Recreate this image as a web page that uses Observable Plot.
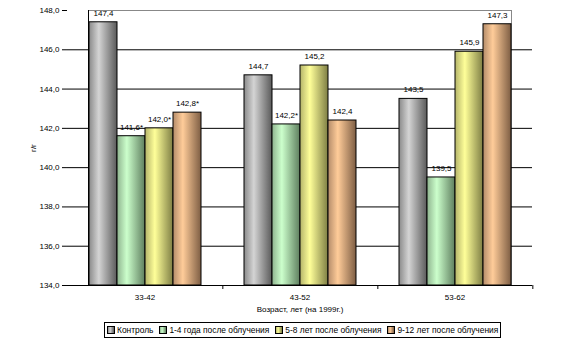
<!DOCTYPE html>
<html><head><meta charset="utf-8">
<script src="https://cdn.jsdelivr.net/npm/d3@7"></script>
<script src="https://cdn.jsdelivr.net/npm/@observablehq/plot@0.6"></script>
<style>
body{margin:0;background:#fff;font-family:"Liberation Sans",Arial,sans-serif;}
#wrap{position:relative;width:574px;height:358px;}
#legend{position:absolute;left:104px;top:322px;border:1px solid #000;padding:1px 2px;font-size:8.4px;white-space:nowrap;display:flex;gap:6px;align-items:center;line-height:12px}
.sw{display:inline-block;width:6px;height:6px;border:1px solid #000;margin-right:2px;vertical-align:-1px}
</style></head><body>
<svg width="0" height="0" style="position:absolute"><defs id="defs"></defs></svg>
<div id="wrap"><div id="chart"></div><div id="legend"></div></div>
<script>
const categories = ["33-42", "43-52", "53-62"];
const seriesNames = ["Контроль", "1-4 года после облучения", "5-8 лет после облучения", "9-12 лет после облучения"];
const control    = [147.4, 144.7, 143.5];
const years1to4  = [141.6, 142.2, 139.5];
const years5to8  = [142.0, 145.2, 145.9];
const years9to12 = [142.8, 142.4, 147.3];
const significant = [[false, false, false], [true, true, false], [true, false, false], [true, false, false]];
const yTicks = [134, 136, 138, 140, 142, 144, 146, 148];
const xTitle = "Возраст, лет (на 1999г.)";
const yTitle = "г/г";
// gradient stops per series: [edge-left, highlight, edge-right]
const seriesGradients = [
  ["#8a8a8a", "#d4d4d4", "#5a5a5a"],
  ["#8fb48f", "#ccffcc", "#5e7e5e"],
  ["#b4b46a", "#ffff99", "#7e7e44"],
  ["#b48c6a", "#ffcc99", "#7e5e44"]
];

const allValues = [control, years1to4, years5to8, years9to12];
const data = [];
seriesNames.forEach((s, j) => categories.forEach((c, i) => data.push({
  series: s, cat: c, value: allValues[j][i], sig: significant[j][i], idx: j
})));

// gradients
const defs = d3.select("#defs");
seriesGradients.forEach((g, j) => {
  const lg = defs.append("linearGradient").attr("id", "grad" + j).attr("x1", 0).attr("x2", 1).attr("y1", 0).attr("y2", 0);
  lg.append("stop").attr("offset", "0%").attr("stop-color", g[0]);
  lg.append("stop").attr("offset", "35%").attr("stop-color", g[1]);
  lg.append("stop").attr("offset", "100%").attr("stop-color", g[2]);
});

const W = 574, H = 318, mL = 66, mR = 41, mT = 10, mB = 33;
const pInner = 0.27, pOuter = pInner / 2;
const step = (W - mL - mR) / categories.length;
const half = step * pInner / 2;
const fmt = v => v.toFixed(1).replace(".", ",");
const font = "Liberation Sans, Arial, sans-serif";

const chart = Plot.plot({
  width: W, height: H,
  marginLeft: mL, marginRight: mR, marginTop: mT, marginBottom: mB,
  style: {fontFamily: font, fontSize: "8px", color: "#000", background: "#fff"},
  fx: {domain: categories, paddingInner: pInner, paddingOuter: pOuter, axis: null, label: null},
  x: {domain: seriesNames, padding: 0, axis: null},
  y: {domain: [134, 148], axis: null},
  color: {type: "identity"},
  marks: [
    Plot.frame({facet: "super", stroke: "#888"}),
    Plot.ruleY(yTicks.slice(1, -1), {stroke: "#000", insetLeft: -half, insetRight: -half}),
    Plot.ruleY([134], {stroke: "#000", insetLeft: -half, insetRight: -half}),
    Plot.frame({facet: "super", anchor: "left", stroke: "#000"}),
    Plot.barY(data, {fx: "cat", x: "series", y1: 134, y2: "value", fill: d => `url(#grad${d.idx})`, stroke: "#000", strokeWidth: 1}),
    Plot.text(data, {fx: "cat", x: "series", y: "value", text: d => fmt(d.value) + (d.sig ? "*" : ""), dy: -9, fontSize: 8}),
    Plot.axisY({ticks: yTicks, tickSize: 5, tickPadding: 3, dx: -half, tickFormat: fmt, label: yTitle, labelArrow: "none", labelAnchor: "center", labelOffset: 58, fontSize: 8}),
    Plot.axisFx({anchor: "bottom", tickSize: 4, dx: step / 2, tickFormat: () => "", label: null}),
    Plot.axisFx({anchor: "bottom", tickSize: 0, tickPadding: 9, label: xTitle, labelArrow: "none", labelAnchor: "center", labelOffset: 26, fontSize: 8})
  ]
});
document.getElementById("chart").appendChild(chart);

const legend = d3.select("#legend");
seriesNames.forEach((s, j) => {
  const item = legend.append("span");
  item.append("span").attr("class", "sw").style("background", `linear-gradient(to right, ${seriesGradients[j][0]}, ${seriesGradients[j][1]} 35%, ${seriesGradients[j][2]})`);
  item.append("span").text(s);
});
</script></body></html>
